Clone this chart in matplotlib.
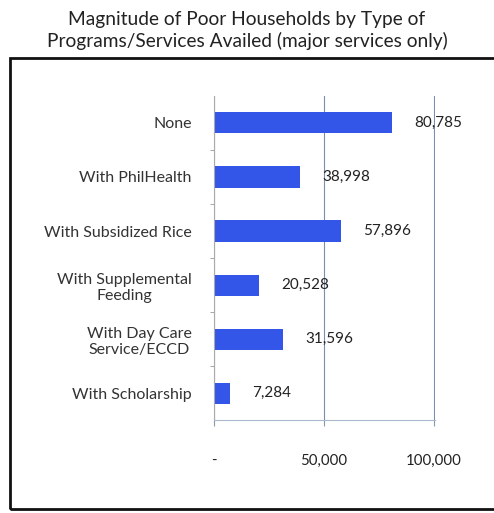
import matplotlib
matplotlib.use("Agg")
import matplotlib.pyplot as plt
from matplotlib.patches import Rectangle
from matplotlib.ticker import FuncFormatter

# data (top to bottom as shown)
categories = ["None", "With PhilHealth", "With Subsidized Rice",
              "With Supplemental\nFeeding", "With Day Care\nService/ECCD",
              "With Scholarship"]
households = [80785, 38998, 57896, 20528, 31596, 7284]
x_ticks = [0, 50000, 100000]

plt.rcParams['font.family'] = ['Lato', 'DejaVu Sans']

fig = plt.figure(figsize=(4.94, 5.13), dpi=100)
fig.patch.set_facecolor('white')

# outer frame
fig.patches.append(Rectangle((0.02, 0.008), 1.2, 0.879, transform=fig.transFigure,
                             fill=False, edgecolor='#111111', linewidth=2))

fig.text(0.5, 0.94, "Magnitude of Poor Households by Type of\nPrograms/Services Availed (major services only)",
         ha='center', va='center', fontsize=13.8, color='#222222', linespacing=1.25)

ax = fig.add_axes([0.433, 0.181, 0.448, 0.632])
pos = list(range(len(categories)))
ax.barh(pos, households, height=0.39, color='#3355e8')
ax.set_ylim(len(categories) - 0.5, -0.5)
ax.set_xlim(0, 100600)

for p, v in zip(pos, households):
    ax.annotate(f"{v:,}", (v, p), xytext=(16, 0), textcoords='offset points',
                ha='left', va='center', fontsize=11, color='#222222')

ax.set_yticks(pos)
ax.set_yticklabels(categories, fontsize=11.5, color='#333333', multialignment='center')
ax.tick_params(axis='y', length=0, pad=16)
ax.set_yticks([p + 0.5 for p in pos[:-1]], minor=True)
ax.tick_params(axis='y', which='minor', length=3, color='#999999')

ax.set_xticks(x_ticks)
ax.xaxis.set_major_formatter(FuncFormatter(lambda v, _: "-" if v == 0 else f"{int(v):,}"))
ax.tick_params(axis='x', length=4, pad=20, labelsize=10.8, labelcolor='#222222', color='#8899aa')

ax.grid(axis='x', color='#7a8fb0', linewidth=0.8)
ax.set_axisbelow(True)
for s in ['top', 'right']:
    ax.spines[s].set_visible(False)
ax.spines['left'].set_color('#aaaaaa')
ax.spines['bottom'].set_color('#aab8cc')

fig.savefig("out.png", dpi=100)
